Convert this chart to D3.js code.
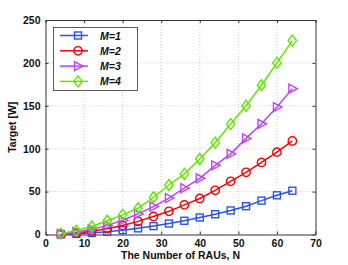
<!DOCTYPE html>
<html><head><meta charset="utf-8">
<script src="https://cdn.jsdelivr.net/npm/d3@7"></script>
<style>body{margin:0;background:#fff}svg{display:block}text{font-family:"Liberation Sans",Arial,sans-serif;font-weight:bold}</style>
</head><body><svg id="c" width="348" height="265"></svg>
<script>
const N = [4,8,12,16,20,24,28,32,36,40,44,48,52,56,60,64];
const M1 = [0.2,0.8,1.8,3.2,5,7.2,9.8,12.8,16,19.8,23.6,28,33,39.5,45.7,51];
const M2 = [0.4,1.7,3.8,6.8,10.6,15.3,21,27,34.5,42,51.5,62,72.5,84,96,109];
const M3 = [0.7,2.7,6,10.6,16.6,24,32.5,42.5,54,65.5,80.6,94,112,129,148.5,170];
const M4 = [1,4.6,9.3,16,22.9,30.6,43.4,57.7,70.6,88,107,128.7,150,174,200,226];
const seriesNames = ["M=1","M=2","M=3","M=4"];
const xTicks = [0,10,20,30,40,50,60,70];
const yTicks = [0,50,100,150,200,250];
const colors = ["#2b50f5","#ff0000","#bf40ff","#5fe800"];
const shapes = ["square","circle","tri","diamond"];
const data = [M1,M2,M3,M4];

const svg = d3.select("#c");
const L=45.5,R=315.5,T=20,B=234.5;
const x = d3.scaleLinear().domain([0,70]).range([L,R]);
const y = d3.scaleLinear().domain([0,250]).range([B,T]);

// grid
const g = svg.append("g");
g.selectAll("line.gx").data(xTicks.slice(1,-1)).join("line")
 .attr("x1",d=>x(d)).attr("x2",d=>x(d)).attr("y1",T).attr("y2",B)
 .attr("stroke","#bbb").attr("stroke-width",0.8).attr("stroke-dasharray","1,2");
g.selectAll("line.gy").data(yTicks.slice(1,-1)).join("line")
 .attr("y1",d=>y(d)).attr("y2",d=>y(d)).attr("x1",L).attr("x2",R)
 .attr("stroke","#bbb").attr("stroke-width",0.8).attr("stroke-dasharray","1,2");

// axes
const ax = svg.append("g").attr("transform",`translate(0,${B})`)
 .call(d3.axisBottom(x).tickValues(xTicks).tickSizeInner(-3).tickSizeOuter(0).tickPadding(5));
const ay = svg.append("g").attr("transform",`translate(${L},0)`)
 .call(d3.axisLeft(y).tickValues(yTicks).tickSizeInner(-3).tickSizeOuter(0).tickPadding(5));
const at = svg.append("g").attr("transform",`translate(0,${T})`)
 .call(d3.axisTop(x).tickValues(xTicks).tickSizeInner(-3).tickSizeOuter(0).tickFormat(""));
const ar = svg.append("g").attr("transform",`translate(${R},0)`)
 .call(d3.axisRight(y).tickValues(yTicks).tickSizeInner(-3).tickSizeOuter(0).tickFormat(""));
[ax,ay,at,ar].forEach(a=>{a.selectAll("path,line").attr("stroke","#333");a.selectAll("text").attr("font-size",10.5).attr("fill","#111").style("font-family","'Liberation Sans',Arial,sans-serif").style("font-weight","bold");});

svg.append("text").attr("x",(L+R)/2).attr("y",259).attr("text-anchor","middle").attr("font-size",10.5).attr("fill","#111").text("The Number of RAUs, N");
svg.append("text").attr("transform",`translate(16,${(T+B)/2}) rotate(-90)`).attr("text-anchor","middle").attr("font-size",10.5).attr("fill","#111").text("Target [W]");

function marker(sel,shape,c){
  if(shape==="square") sel.append("rect").attr("x",-3.5).attr("y",-3.5).attr("width",7).attr("height",7);
  else if(shape==="circle") sel.append("circle").attr("r",4.2);
  else if(shape==="tri") sel.append("path").attr("d","M-3.5,-4.5L5,0L-3.5,4.5Z");
  else sel.append("path").attr("d","M0,-5.5L4.2,0L0,5.5L-4.2,0Z");
  sel.selectAll("*").attr("fill","none").attr("stroke",c).attr("stroke-width",1.4);
}
const line = d3.line().x((d,i)=>x(N[i])).y(d=>y(d));
data.forEach((s,k)=>{
  svg.append("path").attr("d",line(s)).attr("fill","none").attr("stroke",colors[k]).attr("stroke-width",1.5);
  s.forEach((v,i)=>{ const m=svg.append("g").attr("transform",`translate(${x(N[i])},${y(v)})`); marker(m,shapes[k],colors[k]); });
});

// legend
const lg = svg.append("g");
lg.append("rect").attr("x",53.5).attr("y",27.5).attr("width",84).attr("height",63).attr("fill","#fff").attr("stroke","#333").attr("stroke-width",0.8);
seriesNames.forEach((n,k)=>{
  const yy = 35.5 + k*15.3;
  lg.append("line").attr("x1",60).attr("x2",88).attr("y1",yy).attr("y2",yy).attr("stroke",colors[k]).attr("stroke-width",1.5);
  const m = lg.append("g").attr("transform",`translate(78,${yy})`); marker(m,shapes[k],colors[k]);
  lg.append("text").attr("x",100).attr("y",yy+4).attr("font-size",10.5).attr("font-style","italic").attr("fill","#111").text(n);
});
</script></body></html>
